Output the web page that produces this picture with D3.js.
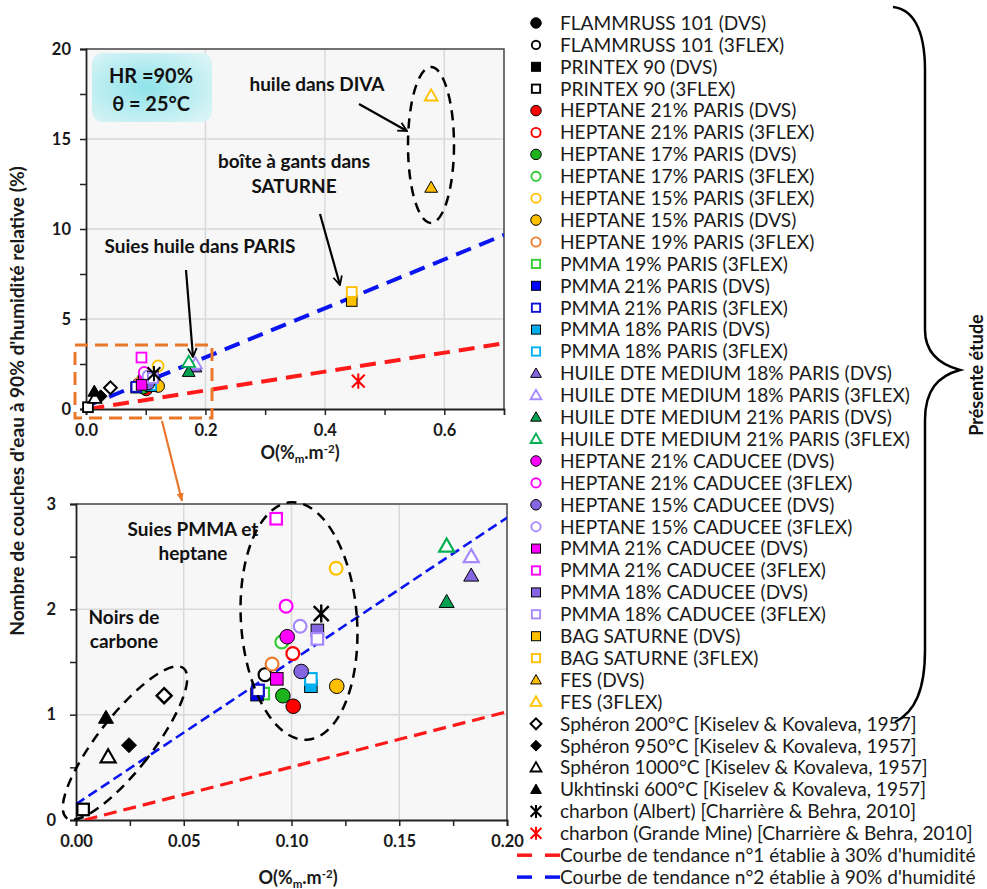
<!DOCTYPE html>
<html><head><meta charset="utf-8">
<script src="https://cdn.jsdelivr.net/npm/d3@7"></script>
<style>body{margin:0;background:#fff}svg{display:block}</style>
</head><body><svg id="c" width="987" height="889"></svg>
<script>
// ---------------- DATA ----------------
const seriesNames = [
 "FLAMMRUSS 101 (DVS)","FLAMMRUSS 101 (3FLEX)","PRINTEX 90 (DVS)","PRINTEX 90 (3FLEX)",
 "HEPTANE 21% PARIS (DVS)","HEPTANE 21% PARIS (3FLEX)","HEPTANE 17% PARIS (DVS)","HEPTANE 17% PARIS (3FLEX)",
 "HEPTANE 15% PARIS (3FLEX)","HEPTANE 15% PARIS (DVS)","HEPTANE 19% PARIS (3FLEX)","PMMA 19% PARIS (3FLEX)",
 "PMMA 21% PARIS (DVS)","PMMA 21% PARIS (3FLEX)","PMMA 18% PARIS (DVS)","PMMA 18% PARIS (3FLEX)",
 "HUILE DTE MEDIUM 18% PARIS (DVS)","HUILE DTE MEDIUM 18% PARIS (3FLEX)","HUILE DTE MEDIUM 21% PARIS (DVS)","HUILE DTE MEDIUM 21% PARIS (3FLEX)",
 "HEPTANE 21% CADUCEE (DVS)","HEPTANE 21% CADUCEE (3FLEX)","HEPTANE 15% CADUCEE (DVS)","HEPTANE 15% CADUCEE (3FLEX)",
 "PMMA 21% CADUCEE (DVS)","PMMA 21% CADUCEE (3FLEX)","PMMA 18% CADUCEE (DVS)","PMMA 18% CADUCEE (3FLEX)",
 "BAG SATURNE (DVS)","BAG SATURNE (3FLEX)","FES (DVS)","FES (3FLEX)",
 "Sphéron 200°C [Kiselev & Kovaleva, 1957]","Sphéron 950°C [Kiselev & Kovaleva, 1957]",
 "Sphéron 1000°C [Kiselev & Kovaleva, 1957]","Ukhtinski 600°C [Kiselev & Kovaleva, 1957]",
 "charbon (Albert) [Charrière & Behra, 2010]","charbon (Grande Mine) [Charrière & Behra, 2010]"
];
const seriesX = [[],[0.0877],[],[0.0033],[0.1008],[0.1006],[0.096],[0.0955],[0.1207],[0.121],[0.091],[0.0869],
 [0.084],[0.0845],[0.109],[0.109],[0.1834],[0.1834],[0.172],[0.172],[0.098],[0.0975],[0.1045],[0.104],
 [0.0932],[0.0929],[0.112],[0.112],[0.445],[0.445],[0.578],[0.578],[0.0409],[0.0246],[0.0149],[0.0139],[0.1138],[0.456]];
const seriesY = [[],[1.38],[],[0.10],[1.08],[1.58],[1.18],[1.69],[2.39],[1.27],[1.48],[1.20],
 [1.19],[1.23],[1.27],[1.34],[2.32],[2.50],[2.07],[2.60],[1.74],[2.03],[1.41],[1.84],
 [1.34],[2.86],[1.80],[1.72],[6.0],[6.5],[12.3],[17.4],[1.18],[0.71],[0.60],[0.97],[1.96],[1.55]];

const trendNames = ["Courbe de tendance n°1 établie à 30% d'humidité","Courbe de tendance n°2 établie à 90% d'humidité"];
const trend1X = [0.004, 0.7], trend1Y = [0.0, 3.65];
const trend2X = [0.0, 0.7],   trend2Y = [0.15, 9.67];

const topXTicks = [0, 0.2, 0.4, 0.6], topXMinor = [0.1, 0.3, 0.5];
const topYTicks = [0, 5, 10, 15, 20], topYMinor = [2.5, 7.5, 12.5, 17.5];
const botXTicks = [0, 0.05, 0.1, 0.15, 0.2], botXMinor = [0.025, 0.075, 0.125, 0.175];
const botYTicks = [0, 1, 2, 3], botYMinor = [0.5, 1.5, 2.5];

// ---------------- STYLES ----------------
const seriesShape = ["circle","circle","square","square","circle","circle","circle","circle","circle","circle","circle","square",
 "square","square","square","square","triangle","triangle","triangle","triangle","circle","circle","circle","circle",
 "square","square","square","square","square","square","triangle","triangle","diamond","diamond","triangle","triangle","asterisk","asterisk"];
const seriesColor = ["#000","#000","#000","#000","#ff0000","#ff0000","#1db31d","#33cc33","#ffc000","#ffc000","#ed7d31","#33cc33",
 "#0000ff","#1010d0","#00b0f0","#00b0f0","#8466e0","#a688ff","#00a050","#00b050","#ff00ff","#ff00ff","#8466e0","#a688ff",
 "#ff00ff","#ff00ff","#8466e0","#a688ff","#ffc000","#ffc000","#ffc000","#ffc000","#000","#000","#000","#000","#000","#ff0000"];
const seriesFilled = [1,0,1,0,1,0,1,0,0,1,0,0,1,0,1,0,1,0,1,0,1,0,1,0,1,0,1,0,1,0,1,0,0,1,0,1,1,1];

const FONT = "Lato, 'Open Sans', 'DejaVu Sans', sans-serif";
const svg = d3.select("#c").attr("font-family", FONT);
const defs = svg.append("defs");

function drawMarker(g, i, x, y, k, legend) {
  const shape = seriesShape[i], color = seriesColor[i], filled = !!seriesFilled[i];
  const fill = filled ? color : "#fff";
  const stroke = filled ? "#000" : color;
  const sw = filled ? 1 : 2.2 * Math.max(k, 0.85);
  if (shape === "circle") {
    let r = (filled ? 7.3 : 6.4) * k;
    if (legend && i === 1) r = 4.2;
    g.append("circle").attr("cx", x).attr("cy", y).attr("r", r)
      .attr("fill", fill).attr("stroke", stroke).attr("stroke-width", sw);
  } else if (shape === "square") {
    const s = (filled ? 12.5 : 11.5) * k;
    g.append("rect").attr("x", x - s/2).attr("y", y - s/2).attr("width", s).attr("height", s)
      .attr("fill", fill).attr("stroke", stroke).attr("stroke-width", sw);
  } else if (shape === "triangle") {
    const s = 15 * k, h = s * 0.87;
    g.append("path").attr("d", `M${x},${y - h*0.58}L${x + s/2},${y + h*0.42}L${x - s/2},${y + h*0.42}Z`)
      .attr("fill", fill).attr("stroke", stroke).attr("stroke-width", sw).attr("stroke-linejoin","miter");
  } else if (shape === "diamond") {
    const r = 7.5 * k;
    g.append("path").attr("d", `M${x},${y - r}L${x + r},${y}L${x},${y + r}L${x - r},${y}Z`)
      .attr("fill", fill).attr("stroke", stroke).attr("stroke-width", filled ? 1 : 2.4*Math.max(k,0.85));
  } else if (shape === "asterisk") {
    const a = 7.5 * k, b = 9 * k;
    g.append("path").attr("d", `M${x - a},${y - a}L${x + a},${y + a}M${x + a},${y - a}L${x - a},${y + a}M${x},${y - b}L${x},${y + b}`)
      .attr("fill", "none").attr("stroke", color).attr("stroke-width", 2.4*Math.max(k,0.85));
  }
}

function fitFont(sel, target) {
  const cur = parseFloat(sel.attr("font-size"));
  const w = sel.node().getComputedTextLength();
  const fs = w > 0 ? cur * target / w : cur;
  sel.attr("font-size", fs);
  return fs;
}

function panel(cfg) {
  const g = svg.append("g");
  const xs = d3.scaleLinear().domain(cfg.xDomain).range([cfg.left, cfg.right]);
  const ys = d3.scaleLinear().domain(cfg.yDomain).range([cfg.bottom, cfg.top]);
  g.append("rect").attr("x", cfg.left).attr("y", cfg.top).attr("width", cfg.right - cfg.left)
    .attr("height", cfg.bottom - cfg.top).attr("fill", "#f7f7f7");
  g.selectAll(null).data(cfg.xTicks.filter(v => v > cfg.xDomain[0] && v < cfg.xDomain[1])).join("line")
    .attr("x1", d => xs(d)).attr("x2", d => xs(d)).attr("y1", cfg.top).attr("y2", cfg.bottom)
    .attr("stroke", "#d9d9d9").attr("stroke-width", 1.5);
  g.selectAll(null).data(cfg.yTicks.filter(v => v > cfg.yDomain[0] && v < cfg.yDomain[1])).join("line")
    .attr("y1", d => ys(d)).attr("y2", d => ys(d)).attr("x1", cfg.left).attr("x2", cfg.right)
    .attr("stroke", "#d9d9d9").attr("stroke-width", 1.5);
  g.append("path").attr("d", `M${cfg.left},${cfg.top}H${cfg.right}V${cfg.bottom}`)
    .attr("fill", "none").attr("stroke", "#444").attr("stroke-width", 1.5);
  const ax = g.append("g").attr("transform", `translate(0,${cfg.bottom})`)
    .call(d3.axisBottom(xs).tickValues(cfg.xTicks).tickFormat(cfg.xFmt).tickSize(6).tickPadding(9));
  const axm = g.append("g").attr("transform", `translate(0,${cfg.bottom})`)
    .call(d3.axisBottom(xs).tickValues(cfg.xMinor).tickFormat("").tickSize(6));
  const ay = g.append("g").attr("transform", `translate(${cfg.left},0)`)
    .call(d3.axisLeft(ys).tickValues(cfg.yTicks).tickFormat(d3.format("d")).tickSize(6).tickPadding(cfg.yPad));
  const aym = g.append("g").attr("transform", `translate(${cfg.left},0)`)
    .call(d3.axisLeft(ys).tickValues(cfg.yMinor).tickFormat("").tickSize(6));
  [ax, axm, ay, aym].forEach(a => {
    a.select(".domain").attr("stroke", "#222").attr("stroke-width", 1.8);
    a.selectAll(".tick line").attr("stroke", "#222").attr("stroke-width", 1.5);
    a.selectAll(".tick text").attr("font-family", FONT).attr("font-weight", "bold")
      .attr("font-size", cfg.tickFs).attr("fill", "#1a1a1a");
  });
  axm.select(".domain").remove(); aym.select(".domain").remove();
  const cid = "clip" + cfg.id;
  defs.append("clipPath").attr("id", cid).append("rect").attr("x", cfg.left).attr("y", cfg.top)
    .attr("width", cfg.right - cfg.left).attr("height", cfg.bottom - cfg.top);
  const lines = g.append("g").attr("clip-path", `url(#${cid})`);
  const line = d3.line().x(d => xs(d[0])).y(d => ys(d[1]));
  lines.append("path").attr("d", line(trend1X.map((v, j) => [v, trend1Y[j]])))
    .attr("fill", "none").attr("stroke", "#ff1a1a").attr("stroke-width", cfg.redW).attr("stroke-dasharray", cfg.redDash);
  lines.append("path").attr("d", line(trend2X.map((v, j) => [v, trend2Y[j]])))
    .attr("fill", "none").attr("stroke", "#0a14f0").attr("stroke-width", cfg.blueW).attr("stroke-dasharray", cfg.blueDash);
  const pg = g.append("g");
  seriesNames.forEach((n, i) => {
    seriesX[i].forEach((xv, j) => {
      const yv = seriesY[i][j];
      if (xv < cfg.xDomain[0] || xv > cfg.xDomain[1] || yv < cfg.yDomain[0] || yv > cfg.yDomain[1]) return;
      drawMarker(pg, i, xs(xv), ys(yv), cfg.k, false);
    });
  });
  return { g, xs, ys };
}

const tickFs = 16.5;
const topPanel = panel({ id: "t", left: 86, right: 504, top: 49, bottom: 409, xDomain: [0, 0.7], yDomain: [0, 20],
  xTicks: topXTicks, xMinor: topXMinor, yTicks: topYTicks, yMinor: topYMinor, xFmt: d3.format(".1f"), yPad: 9,
  tickFs, k: 0.85, redW: 4, redDash: "16 9", blueW: 4, blueDash: "16 9" });
const botPanel = panel({ id: "b", left: 76, right: 507, top: 504, bottom: 820, xDomain: [0, 0.2], yDomain: [0, 3],
  xTicks: botXTicks, xMinor: botXMinor, yTicks: botYTicks, yMinor: botYMinor, xFmt: d3.format(".2f"), yPad: 14,
  tickFs, k: 1, redW: 3.2, redDash: "13 7", blueW: 2.6, blueDash: "10 5" });

function xTitle(cx, y) {
  const t = svg.append("text").attr("x", cx).attr("y", y).attr("text-anchor", "middle")
    .attr("font-weight", "bold").attr("font-size", 18).attr("fill", "#1a1a1a");
  t.append("tspan").text("O(%");
  t.append("tspan").attr("font-size", 11.5).attr("dy", 4).text("m");
  t.append("tspan").attr("dy", -4).text(".m");
  t.append("tspan").attr("font-size", 11.5).attr("dy", -6).text("-2");
  t.append("tspan").attr("dy", 6).text(")");
  return t;
}
xTitle(300, 459);
xTitle(298, 884);

const yl = svg.append("text").attr("transform", "translate(24,401) rotate(-90)").attr("text-anchor", "middle")
  .attr("font-weight", "bold").attr("font-size", 17).attr("fill", "#1a1a1a")
  .text("Nombre de couches d'eau à 90% d'humidité relative (%)");
fitFont(yl, 470);

const grad = defs.append("radialGradient").attr("id", "hrg").attr("cx", "45%").attr("cy", "50%").attr("r", "65%");
grad.append("stop").attr("offset", "0%").attr("stop-color", "#8fe3ea");
grad.append("stop").attr("offset", "100%").attr("stop-color", "#d8f4f6");
svg.append("rect").attr("x", 92).attr("y", 53).attr("width", 120).attr("height", 69).attr("rx", 10)
  .attr("fill", "url(#hrg)");
const hr1 = svg.append("text").attr("x", 151).attr("y", 83).attr("text-anchor", "middle").attr("font-weight", "bold")
  .attr("font-size", 21).attr("fill", "#111").text("HR =90%");
const hrFs = fitFont(hr1, 84);
svg.append("text").attr("x", 151).attr("y", 111).attr("text-anchor", "middle").attr("font-weight", "bold")
  .attr("font-size", hrFs).attr("fill", "#111").text("θ = 25°C");

const annFs0 = svg.append("text").attr("x", 200).attr("y", 253).attr("text-anchor", "middle").attr("font-weight", "bold")
  .attr("font-size", 16).attr("fill", "#111").text("Suies huile dans PARIS");
const annFs = fitFont(annFs0, 191);
const annTexts = [
  ["huile dans DIVA", 317, 91], ["boîte à gants dans", 294, 168], ["SATURNE", 294, 193],
  ["Suies PMMA et", 193, 536], ["heptane", 193, 560], ["Noirs de", 124, 624], ["carbone", 124, 648]
];
annTexts.forEach(a => svg.append("text").attr("x", a[1]).attr("y", a[2]).attr("text-anchor", "middle")
  .attr("font-weight", "bold").attr("font-size", annFs).attr("fill", "#111").text(a[0]));

defs.append("marker").attr("id", "arr").attr("viewBox", "0 0 10 10").attr("refX", 9).attr("refY", 5)
  .attr("markerWidth", 5).attr("markerHeight", 5).attr("orient", "auto").attr("markerUnits", "strokeWidth")
  .append("path").attr("d", "M1,1L9,5L1,9").attr("fill", "none").attr("stroke", "#000").attr("stroke-width", 1.6);
defs.append("marker").attr("id", "arro").attr("viewBox", "0 0 10 10").attr("refX", 9).attr("refY", 5)
  .attr("markerWidth", 4).attr("markerHeight", 4).attr("orient", "auto").attr("markerUnits", "strokeWidth")
  .append("path").attr("d", "M0,1L10,5L0,9Z").attr("fill", "#e9782a");
[[359, 104, 407, 131], [320, 214, 340, 285], [186, 270, 193, 357]].forEach(a =>
  svg.append("line").attr("x1", a[0]).attr("y1", a[1]).attr("x2", a[2]).attr("y2", a[3])
    .attr("stroke", "#000").attr("stroke-width", 2.2).attr("marker-end", "url(#arr)"));

svg.append("ellipse").attr("cx", 431).attr("cy", 145).attr("rx", 23).attr("ry", 78)
  .attr("fill", "none").attr("stroke", "#000").attr("stroke-width", 2.5).attr("stroke-dasharray", "10 7");
svg.append("ellipse").attr("transform", "translate(299,621) rotate(-4)").attr("rx", 58).attr("ry", 119)
  .attr("fill", "none").attr("stroke", "#000").attr("stroke-width", 2.5).attr("stroke-dasharray", "10 7");
svg.append("ellipse").attr("transform", "translate(125,743) rotate(38)").attr("rx", 27).attr("ry", 95)
  .attr("fill", "none").attr("stroke", "#000").attr("stroke-width", 2.5).attr("stroke-dasharray", "10 7");

svg.append("rect").attr("x", 75).attr("y", 345).attr("width", 137).attr("height", 73)
  .attr("fill", "none").attr("stroke", "#e9782a").attr("stroke-width", 3).attr("stroke-dasharray", "13 7");
svg.append("line").attr("x1", 162).attr("y1", 421).attr("x2", 182).attr("y2", 501)
  .attr("stroke", "#e9782a").attr("stroke-width", 2.2).attr("marker-end", "url(#arro)");

const lg = svg.append("g");
const legY0 = 23, legDY = 21.9, legMX = 536, legTX = 560;
const longest = lg.append("text").attr("x", legTX).attr("y", -100).attr("font-size", 18)
  .text(seriesNames[37]);
const legFs = fitFont(longest, 413);
longest.remove();
seriesNames.forEach((n, i) => {
  const y = legY0 + i * legDY;
  drawMarker(lg, i, legMX, y, 0.72, true);
  lg.append("text").attr("x", legTX).attr("y", y).attr("dy", "0.36em").attr("font-size", legFs)
    .attr("fill", "#1a1a1a").text(n);
});
trendNames.forEach((n, j) => {
  const y = legY0 + (38 + j) * legDY;
  const col = j === 0 ? "#ff1a1a" : "#0a14f0";
  [[517, 532], [545, 560]].forEach(s => lg.append("line").attr("x1", s[0]).attr("x2", s[1]).attr("y1", y).attr("y2", y)
    .attr("stroke", col).attr("stroke-width", 3.5));
  lg.append("text").attr("x", legTX).attr("y", y).attr("dy", "0.36em").attr("font-size", legFs)
    .attr("fill", "#1a1a1a").text(n);
});

svg.append("path").attr("d", "M893,7 C912,9 925,28 925,70 L925,330 C925,352 938,364 960,370 C938,376 925,390 925,420 L925,650 C925,690 915,712 895,722")
  .attr("fill", "none").attr("stroke", "#000").attr("stroke-width", 2.5);
svg.append("text").attr("transform", "translate(983,375) rotate(-90)").attr("text-anchor", "middle")
  .attr("font-weight", "bold").attr("font-size", 18).attr("fill", "#111").text("Présente étude");
</script></body></html>
